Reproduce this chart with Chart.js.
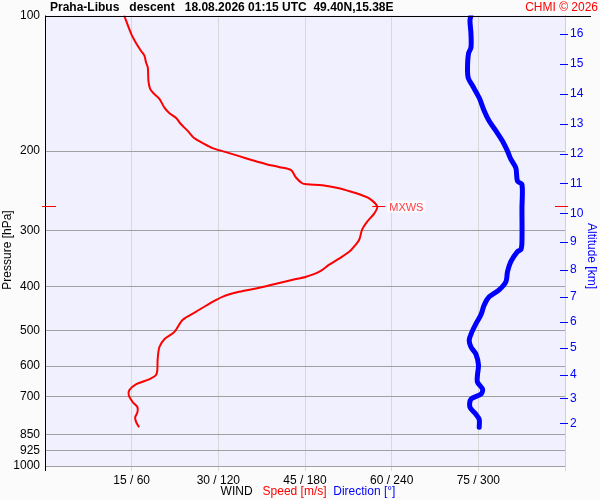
<!DOCTYPE html>
<html>
<head>
<meta charset="utf-8">
<script src="https://cdn.jsdelivr.net/npm/chart.js@4.4.1/dist/chart.umd.min.js"></script>
<style>
  html,body{margin:0;padding:0;background:#fbfbfb;}
  #wrap{width:600px;height:500px;position:relative;}
</style>
</head>
<body>
<div id="wrap"><canvas id="myChart" width="600" height="500"></canvas></div>
<script>
// wind speed profile [m/s] vs pressure [hPa]
const speedPres=[100,109.7,115.4,119.7,122.8,127.3,130.6,139.6,145.5,149.3,153.1,160.4,164.6,168.9,174.1,180.4,187.1,191.9,196.9,201,205.2,209.5,213.8,217.1,220.5,228.6,235.7,237,238.1,241.8,245.6,249.4,254.6,265.3,274.9,286.5,298.5,314.2,322.4,334.2,346.4,357.3,370.4,380,385.9,393.9,402.1,410.5,421.2,436.6,454.9,473.9,503.9,522.4,544.3,578.8,625.1,641.4,658.1,678.7,696.3,721.8,740.6,759.9,779.9,799.9,820.7];
const speedVals=[13.7,14.9,15.8,16.6,17.2,17.5,17.8,17.9,18.2,18.9,19.8,20.7,21.5,22.7,23.5,24.7,25.8,27.3,29.0,31.3,33.6,35.9,38.3,40.6,42.6,43.4,44.5,45.4,48.0,50.9,52.7,54.4,56.1,57.5,57.0,55.8,54.9,54.4,53.8,52.7,50.9,49.2,47.5,45.2,42.9,40.0,37.1,33.6,30.7,28.4,26.1,23.8,22.4,20.7,19.8,19.5,19.3,18.1,15.8,14.6,14.5,15.2,16.0,16.0,15.6,15.8,16.3];

// wind direction [deg] vs pressure [hPa]
const dirPres=[100,102.6,109.7,117.8,121.5,130.6,137.5,143.2,152.3,162.9,171.5,180.4,189.9,200,208.4,218.2,233.3,237,268,317.5,330.7,334.2,351.8,370.4,389.9,406.3,421.2,438.8,461.8,483.6,503.9,525.1,544.3,564.2,596.9,628.4,651.4,675.1,692.7,710.7,740.6,767.8,787.9,820.7];
const dirVals=[294.9,294.2,294.9,294.9,293.2,292.5,293.0,296.0,300.6,304.1,307.5,312.2,316.7,320.2,322.5,326.0,327.1,330.2,330.2,330.2,329.5,327.1,322.5,320.2,319.1,314.4,307.5,304.1,301.8,298.3,295.6,293.7,294.9,298.3,300.1,299.4,299.4,302.9,301.8,294.9,294.2,298.3,300.6,300.6];

// max wind level
const mxwsPres=265.3;
const mxwsSpeed=57.5;

// axes
const presTicks=[100,200,300,400,500,600,700,850,925,1000];
const altLabels=[16,15,14,13,12,11,10,9,8,7,6,5,4,3,2];
const altPres=[109.7,128.0,149.3,174.1,203.1,235.7,274.9,317.5,366.6,421.2,478.6,547.0,628.4,707.1,804.0];

const FONT="'Liberation Sans', Arial, sans-serif";

const extras={
    id:'extras',
    beforeDraw(chart){
        const {ctx,chartArea:a}=chart;
        ctx.save();
        ctx.fillStyle='#f0f0ff';
        ctx.fillRect(a.left,a.top,a.right-a.left,a.bottom-a.top);
        ctx.restore();
    },
    afterDraw(chart){
        const {ctx,chartArea:a}=chart;
        const y=chart.scales.y, x=chart.scales.x, y2=chart.scales.y2;
        ctx.save();
        // frame lines
        ctx.strokeStyle='#000';ctx.lineWidth=1;
        ctx.beginPath();
        ctx.moveTo(a.left,Math.round(a.top)+0.5);ctx.lineTo(591,Math.round(a.top)+0.5);
        ctx.moveTo(a.left+0.5,a.top);ctx.lineTo(a.left+0.5,a.bottom+5);
        ctx.stroke();
        // altitude tick marks
        ctx.strokeStyle='#0000ff';
        ctx.beginPath();
        altPres.forEach(p=>{
            const py=Math.round(y2.getPixelForValue(p))+0.5;
            ctx.moveTo(a.right-5,py);ctx.lineTo(a.right+3,py);
        });
        ctx.stroke();
        // max wind markers
        const my=Math.round(y.getPixelForValue(mxwsPres))+0.5;
        const mx=x.getPixelForValue(mxwsSpeed);
        ctx.strokeStyle='#ff0000';
        ctx.beginPath();
        ctx.moveTo(a.left-3,my);ctx.lineTo(a.left+11,my);
        ctx.moveTo(a.right-10,my);ctx.lineTo(a.right+3,my);
        ctx.moveTo(mx-5,my);ctx.lineTo(mx+8,my);
        ctx.stroke();
        ctx.font='11px '+FONT;
        ctx.textBaseline='middle';
        const w=ctx.measureText('MXWS').width;
        ctx.fillStyle='#fafaff';
        ctx.fillRect(mx+10,my-6,w+4,12);
        ctx.fillStyle='#ff4040';
        ctx.fillText('MXWS',mx+12,my+1);
        // titles
        ctx.font='bold 12px '+FONT;
        ctx.fillStyle='#000';
        ctx.textAlign='left';
        ctx.fillText('Praha-Libus   descent   18.08.2026 01:15 UTC  49.40N,15.38E',50,8);
        ctx.font='12px '+FONT;
        ctx.fillStyle='#ff0000';
        ctx.textAlign='right';
        ctx.fillText('CHMI \u00a9 2026',598,8);
        // bottom legend
        ctx.textAlign='left';
        const parts=[['WIND   ','#000'],['Speed [m/s]  ','#ff0000'],['Direction [\u00b0]','#0000ff']];
        let tw=0;parts.forEach(p=>tw+=ctx.measureText(p[0]).width);
        let px=308-tw/2;
        parts.forEach(p=>{ctx.fillStyle=p[1];ctx.fillText(p[0],px,492);px+=ctx.measureText(p[0]).width;});
        // side titles
        ctx.fillStyle='#000';
        ctx.textAlign='center';
        ctx.save();ctx.translate(8,250);ctx.rotate(-Math.PI/2);ctx.fillText('Pressure [hPa]',0,0);ctx.restore();
        ctx.fillStyle='#0000ff';
        ctx.save();ctx.translate(591,256);ctx.rotate(Math.PI/2);ctx.fillText('Altitude [km]',0,0);ctx.restore();
        ctx.restore();
    }
};

const ctx=document.getElementById('myChart').getContext('2d');
const myChart=new Chart(ctx,{
    type:'scatter',
    data:{
        datasets:[{
            label:'Speed',
            data:speedPres.map((p,i)=>({x:speedVals[i],y:p})),
            xAxisID:'x',yAxisID:'y',
            showLine:true,borderColor:'#ff0000',borderWidth:2,pointRadius:0,tension:0.3
        },{
            label:'Direction',
            data:dirPres.map((p,i)=>({x:dirVals[i],y:p})),
            xAxisID:'x2',yAxisID:'y',
            showLine:true,borderColor:'#0000ff',borderWidth:5,pointRadius:0,tension:0.3,
            borderCapStyle:'round',borderJoinStyle:'round'
        }]
    },
    options:{
        responsive:false,animation:false,
        layout:{padding:{top:15.5,left:0,right:0,bottom:0}},
        plugins:{legend:{display:false},tooltip:{enabled:false}},
        font:{family:FONT},
        scales:{
            x:{
                type:'linear',position:'bottom',min:0,max:90,
                afterFit:s=>{s.height=34;},
                border:{display:false},
                grid:{color:c=>(c.tick&&c.tick.value===0)?'rgba(0,0,0,0)':'#d8d8d8',tickLength:5,tickColor:'#d8d8d8'},
                ticks:{stepSize:15,autoSkip:false,maxRotation:0,padding:2,color:'#000',font:{family:FONT,size:12},
                    callback:v=>(v===0||v===90)?'':v+' / '+v*4}
            },
            x2:{type:'linear',display:false,min:0,max:360},
            y:{
                type:'logarithmic',position:'left',reverse:true,min:100,max:1000,
                afterFit:s=>{s.width=45;},
                afterBuildTicks:s=>{s.ticks=presTicks.map(v=>({value:v}));},
                border:{display:false},
                grid:{color:c=>(c.tick&&c.tick.value===100)?'rgba(0,0,0,0)':'#a0a0a0',drawTicks:false},
                ticks:{padding:5,color:'#000',font:{family:FONT,size:12},callback:v=>String(v)}
            },
            y2:{
                type:'logarithmic',position:'right',reverse:true,min:100,max:1000,
                afterFit:s=>{s.width=35;},
                afterBuildTicks:s=>{s.ticks=altPres.map(v=>({value:v}));},
                border:{display:true,color:'#d0d0d0'},
                grid:{drawOnChartArea:false,drawTicks:false},
                ticks:{padding:5,color:'#0000ff',font:{family:FONT,size:12},
                    callback:(v,i)=>String(altLabels[i])}
            }
        }
    },
    plugins:[extras]
});
</script>
</body>
</html>
